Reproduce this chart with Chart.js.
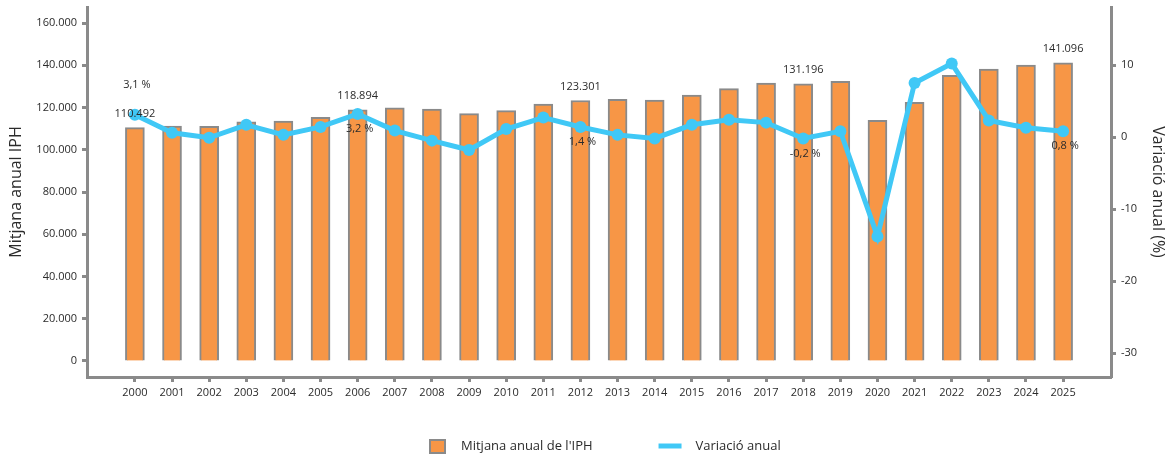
<!DOCTYPE html>
<html>
<head>
<meta charset="utf-8">
<script src="https://cdn.jsdelivr.net/npm/chart.js@4"></script>
<style>
  body { margin: 0; background: #fff; }
</style>
</head>
<body>
<canvas id="grafic" width="1167" height="456"></canvas>
<script>
const anys = [2000, 2001, 2002, 2003, 2004, 2005, 2006, 2007, 2008, 2009, 2010, 2011, 2012,
              2013, 2014, 2015, 2016, 2017, 2018, 2019, 2020, 2021, 2022, 2023, 2024, 2025];
const mitjana = [110492, 111200, 111100, 113200, 113600, 115300, 118894, 119900, 119300, 117100, 118500, 121600, 123301,
                 123900, 123500, 125900, 128900, 131600, 131196, 132400, 113900, 122400, 135200, 138200, 140100, 141096];
const variacio = [3.1, 0.6, -0.1, 1.7, 0.3, 1.4, 3.2, 0.9, -0.5, -1.8, 1.1, 2.7, 1.4,
                  0.3, -0.2, 1.7, 2.4, 2.0, -0.2, 0.8, -13.8, 7.5, 10.2, 2.3, 1.3, 0.8];
const anysEtiqueta = [2000, 2006, 2012, 2018, 2025];
const ticksIPH = [0, 20000, 40000, 60000, 80000, 100000, 120000, 140000, 160000];
const ticksVar = [-30, -20, -10, 0, 10];

const GRIS = '#8a8a8a';
const TEXT = '#2b2b2b';
const TARONJA = '#F79646';
const BLAU = '#40C8F6';
Chart.defaults.font.family = '"Open Sans", "Noto Sans", sans-serif';

function milers(v) {
    return String(v).replace(/\B(?=(\d{3})+(?!\d))/g, '.');
}
function percent(v) {
    return v.toFixed(1).replace('.', ',') + ' %';
}
function senseMarge(s) {
    s.paddingTop = 0;
    s.paddingBottom = 0;
    s.paddingLeft = 0;
    s.paddingRight = 0;
}

// etiquetes de valor sobre barres i punts
const etiquetes = {
    id: 'etiquetes',
    afterDatasetsDraw(chart) {
        const ctx = chart.ctx;
        const barres = chart.getDatasetMeta(0).data;
        const punts = chart.getDatasetMeta(1).data;
        ctx.save();
        ctx.font = '11px "Open Sans", "Noto Sans", sans-serif';
        ctx.fillStyle = TEXT;
        ctx.textAlign = 'center';
        ctx.textBaseline = 'middle';
        anysEtiqueta.forEach(any => {
            const i = anys.indexOf(any);
            const b = barres[i];
            ctx.fillText(milers(mitjana[i]), b.x, b.y - 14);
            const p = punts[i];
            const dy = i === 0 ? -30 : 15;
            ctx.fillText(percent(variacio[i]), p.x + 2, p.y + dy);
        });
        ctx.restore();
    }
};

// llegenda a baix
const llegenda = {
    id: 'llegenda',
    afterDraw(chart) {
        const ctx = chart.ctx;
        const y = 446;
        ctx.save();
        ctx.font = '13px "Open Sans", "Noto Sans", sans-serif';
        ctx.textBaseline = 'middle';
        let x = 429;
        ctx.fillStyle = TARONJA;
        ctx.fillRect(x, y - 7, 17, 15);
        ctx.strokeStyle = GRIS;
        ctx.lineWidth = 2;
        ctx.strokeRect(x + 1, y - 6, 15, 13);
        ctx.fillStyle = TEXT;
        const t1 = chart.data.datasets[0].label;
        ctx.fillText(t1, x + 32, y);
        x = x + 32 + ctx.measureText(t1).width + 66;
        ctx.strokeStyle = BLAU;
        ctx.lineWidth = 5;
        ctx.beginPath();
        ctx.moveTo(x, y);
        ctx.lineTo(x + 23, y);
        ctx.stroke();
        ctx.fillText(chart.data.datasets[1].label, x + 37, y);
        ctx.restore();
    }
};

const ctx = document.getElementById('grafic').getContext('2d');
new Chart(ctx, {
    type: 'bar',
    data: {
        datasets: [{
            type: 'bar',
            label: "Mitjana anual de l'IPH",
            data: anys.map((a, i) => ({ x: a, y: mitjana[i] })),
            backgroundColor: TARONJA,
            borderColor: GRIS,
            borderWidth: 2,
            barThickness: 19,
            yAxisID: 'y',
            order: 2
        }, {
            type: 'line',
            label: 'Variació anual',
            data: anys.map((a, i) => ({ x: a, y: variacio[i] })),
            borderColor: BLAU,
            backgroundColor: BLAU,
            borderWidth: 5,
            pointRadius: 6,
            pointBorderWidth: 0,
            pointBackgroundColor: BLAU,
            tension: 0,
            yAxisID: 'y2',
            order: 1
        }]
    },
    options: {
        responsive: false,
        animation: false,
        layout: { padding: { top: 7, bottom: 39 } },
        plugins: {
            legend: { display: false },
            tooltip: { enabled: false }
        },
        scales: {
            x: {
                type: 'linear',
                min: 1998.71,
                max: 2026.29,
                offset: false,
                afterBuildTicks: s => { s.ticks = anys.map(v => ({ value: v })); },
                afterFit: s => { s.height = 40; senseMarge(s); },
                ticks: {
                    autoSkip: false,
                    maxRotation: 0,
                    padding: 4,
                    color: TEXT,
                    font: { size: 11 },
                    callback: v => String(v)
                },
                grid: { offset: false, drawOnChartArea: false, tickLength: 5, tickWidth: 3, tickColor: GRIS },
                border: { display: true, color: GRIS, width: 3 }
            },
            y: {
                position: 'left',
                min: -7574,
                max: 167574,
                afterBuildTicks: s => { s.ticks = ticksIPH.map(v => ({ value: v })); },
                afterFit: s => { s.width = 87; senseMarge(s); },
                ticks: { color: TEXT, font: { size: 11 }, padding: 5, callback: v => milers(v) },
                grid: { drawOnChartArea: false, tickLength: 5, tickWidth: 3, tickColor: GRIS },
                border: { display: true, color: GRIS, width: 3 },
                title: {
                    display: true,
                    text: 'Mitjana anual IPH',
                    color: TEXT,
                    font: { size: 16 },
                    padding: { top: 7, bottom: 0 }
                }
            },
            y2: {
                position: 'right',
                min: -33.33,
                max: 18.06,
                afterBuildTicks: s => { s.ticks = ticksVar.map(v => ({ value: v })); },
                afterFit: s => { s.width = 56; senseMarge(s); },
                ticks: { color: TEXT, font: { size: 11 }, padding: 5, callback: v => String(v) },
                grid: { drawOnChartArea: false, tickLength: 5, tickWidth: 3, tickColor: GRIS },
                border: { display: true, color: GRIS, width: 3 },
                title: {
                    display: true,
                    text: 'Variació anual (%)',
                    color: TEXT,
                    font: { size: 16 },
                    padding: { top: 0, bottom: 0 }
                }
            }
        }
    },
    plugins: [etiquetes, llegenda]
});
</script>
</body>
</html>
